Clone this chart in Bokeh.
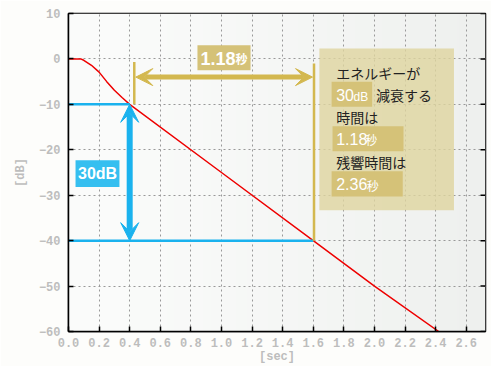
import numpy as np
from bokeh.plotting import figure
from bokeh.models import (Range1d, FixedTicker, PrintfTickFormatter,
                          BoxAnnotation, Label, Arrow, VeeHead)
from bokeh.embed import file_html
from bokeh.resources import INLINE

# ---- data ----
time_s = [0.0, 0.08, 0.10, 0.15, 0.20, 0.25, 0.30, 0.35, 0.40, 1.00, 1.60, 2.00, 2.42]
level_db = [0.0, 0.0, -0.3, -1.4, -2.9, -5.0, -6.9, -8.5, -10.0, -25.0, -40.0, -50.0, -60.0]
x_ticks = [0.0, 0.2, 0.4, 0.6, 0.8, 1.0, 1.2, 1.4, 1.6, 1.8, 2.0, 2.2, 2.4, 2.6]
y_ticks = [10, 0, -10, -20, -30, -40, -50, -60]

t_start, t_end = 0.40, 1.60          # -10 dB and -40 dB crossing times
lvl_start, lvl_end = -10.0, -40.0
decay_30db = "1.18"
reverb_time = "2.36"

X_MAX = 2.726
RED = "#ee0000"
BLUE = "#1ab2ee"
BLUE_BOX = "#35bff0"
GOLD = "#d3b84f"
GOLD_BOX = "#d5c278"
PANEL = "#dfd59f"
TICK_GRAY = "#bdbdbd"

p = figure(width=491, height=366, output_backend="svg", toolbar_location=None,
           x_range=Range1d(0, X_MAX), y_range=Range1d(-60, 10),
           min_border_left=68, min_border_right=6, min_border_top=13, min_border_bottom=34)
p.border_fill_color = "#fdfdfb"
p.background_fill_color = "#f6f7f6"
p.outline_line_color = "black"
p.outline_line_width = 1.5

# background gradient of the plot area
N = 256
img = np.empty((1, N), dtype=np.uint32)
view = img.view(dtype=np.uint8).reshape((1, N, 4))
f = np.linspace(0, 1, N) ** 1.3
view[0, :, 0] = (251 - 13 * f).astype(np.uint8)
view[0, :, 1] = (252 - 12 * f).astype(np.uint8)
view[0, :, 2] = (251 - 13 * f).astype(np.uint8)
view[0, :, 3] = 255
p.image_rgba(image=[img], x=0, y=-60, dw=X_MAX, dh=70, level="image")

# axes
mono = "Liberation Mono"
for ax in (p.xaxis[0], p.yaxis[0]):
    ax.major_label_text_font = mono
    ax.major_label_text_font_style = "bold"
    ax.major_label_text_font_size = "12px"
    ax.major_label_text_color = TICK_GRAY
    ax.axis_label_text_font = mono
    ax.axis_label_text_font_style = "bold"
    ax.axis_label_text_font_size = "12px"
    ax.axis_label_text_color = TICK_GRAY
    ax.major_tick_in = 5
    ax.major_tick_out = 0
    ax.minor_tick_in = 0
    ax.minor_tick_out = 0
    ax.axis_line_color = "black"
    ax.axis_line_width = 1.5
    ax.major_tick_line_width = 1.5
p.xaxis.ticker = FixedTicker(ticks=x_ticks)
p.xaxis.formatter = PrintfTickFormatter(format="%.1f")
p.yaxis.ticker = FixedTicker(ticks=y_ticks)
p.xaxis.axis_label = "[sec]"
p.yaxis.axis_label = "[dB]"
p.xaxis.major_label_standoff = 6
p.xaxis.axis_label_standoff = 0
p.yaxis.major_label_standoff = 8
p.yaxis.axis_label_standoff = 8

# inward tick marks on the right edge
tick_len = 5 / 153.0
p.segment(x0=[X_MAX] * len(y_ticks), y0=y_ticks, x1=[X_MAX - tick_len] * len(y_ticks),
          y1=y_ticks, line_color="black", line_width=1.5)

p.grid.grid_line_color = "#999999"
p.grid.grid_line_dash = "2 3"
p.grid.grid_line_width = 1
p.xgrid.ticker = FixedTicker(ticks=x_ticks)
p.ygrid.ticker = FixedTicker(ticks=y_ticks)

# decay curve
p.line(time_s, level_db, line_color=RED, line_width=1.5)

# blue reference lines and 30 dB arrow
p.line([0, t_start], [lvl_start, lvl_start], line_color=BLUE, line_width=2.5)
p.line([0, t_end], [lvl_end, lvl_end], line_color=BLUE, line_width=2.5)
p.add_layout(Arrow(x_start=t_start, y_start=lvl_end, x_end=t_start, y_end=lvl_start,
                   line_color=BLUE, line_width=6,
                   start=VeeHead(size=18, fill_color=BLUE, line_color=BLUE),
                   end=VeeHead(size=18, fill_color=BLUE, line_color=BLUE)))
p.add_layout(BoxAnnotation(left=0.046, right=0.333, top=-22.3, bottom=-28.2,
                           fill_color=BLUE_BOX, fill_alpha=1, line_alpha=0))
p.add_layout(Label(x=0.19, y=-25.3, text="30dB", text_color="white",
                   text_font="Liberation Sans", text_font_style="bold",
                   text_font_size="16px", text_align="center", text_baseline="middle"))

# gold markers and 1.18 s arrow
p.line([0.43, 0.43], [-0.7, lvl_start], line_color=GOLD, line_width=2.5)
p.line([t_end + 0.005, t_end + 0.005], [-1.0, lvl_end], line_color=GOLD, line_width=2.5)
p.add_layout(Arrow(x_start=0.44, y_start=-4.0, x_end=t_end - 0.005, y_end=-4.0,
                   line_color=GOLD, line_width=5,
                   start=VeeHead(size=17, fill_color=GOLD, line_color=GOLD),
                   end=VeeHead(size=17, fill_color=GOLD, line_color=GOLD)))
p.add_layout(BoxAnnotation(left=0.843, right=1.19, top=3.0, bottom=-2.5,
                           fill_color=GOLD_BOX, fill_alpha=1, line_alpha=0))
p.add_layout(Label(x=0.863, y=0.2, text=decay_30db, text_color="white",
                   text_font="Liberation Sans", text_font_style="bold",
                   text_font_size="18px", text_baseline="middle"))
p.add_layout(Label(x=1.092, y=0.0, text="秒", text_color="white",
                   text_font="Noto Sans CJK JP", text_font_style="bold",
                   text_font_size="12px", text_baseline="middle"))

# explanation panel
p.add_layout(BoxAnnotation(left=1.64, right=2.52, top=2.3, bottom=-33.3,
                           fill_color=PANEL, fill_alpha=0.8, line_alpha=0))
jp = "Noto Sans CJK JP"
dark = "#222222"


def jtext(x, y, t, size="14px", color=dark, font=jp):
    p.add_layout(Label(x=x, y=y, text=t, text_color=color, text_font=font,
                       text_font_size=size, text_baseline="middle"))


jtext(1.75, -3.0, "エネルギーが")
p.add_layout(BoxAnnotation(left=1.72, right=1.985, top=-5.0, bottom=-10.5,
                           fill_color=GOLD_BOX, fill_alpha=1, line_alpha=0))
jtext(1.75, -7.9, "30", size="16px", color="white", font="Liberation Sans")
jtext(1.863, -8.3, "dB", size="12px", color="white", font="Liberation Sans")
jtext(2.01, -8.0, "減衰する")
jtext(1.75, -12.8, "時間は")
p.add_layout(BoxAnnotation(left=1.726, right=2.19, top=-14.8, bottom=-20.3,
                           fill_color=GOLD_BOX, fill_alpha=1, line_alpha=0))
jtext(1.75, -17.6, decay_30db, size="16px", color="white", font="Liberation Sans")
jtext(1.94, -17.8, "秒", size="12px", color="white")
jtext(1.75, -22.7, "残響時間は")
p.add_layout(BoxAnnotation(left=1.72, right=2.185, top=-24.7, bottom=-30.3,
                           fill_color=GOLD_BOX, fill_alpha=1, line_alpha=0))
jtext(1.75, -27.6, reverb_time, size="16px", color="white", font="Liberation Sans")
jtext(1.95, -27.8, "秒", size="12px", color="white")

open("out.html", "w").write(file_html(p, INLINE))
